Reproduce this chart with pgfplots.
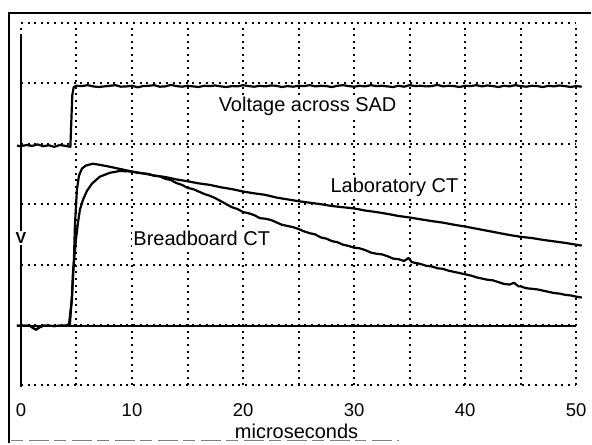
\documentclass[border=0pt]{standalone}
\usepackage{pgfplots}
\pgfplotsset{compat=1.18}
\usepackage{fontspec}
\setmainfont{Liberation Sans}

\pgfplotstableread{
x y
-0.36 3.97
0.0 3.96
0.5 3.98
1.0 3.965
1.5 3.99
2.0 3.96
2.5 3.975
3.0 3.95
3.5 3.98
4.0 3.965
4.45 3.95
4.52 4.30
4.62 4.80
4.75 4.94
5.0 4.96
5.5 4.955
6.0 4.97
6.5 4.95
7.0 4.94
7.5 4.95
8.0 4.96
8.5 4.97
9.0 4.945
9.5 4.95
10.0 4.96
10.5 4.935
11.0 4.955
11.5 4.96
12.0 4.97
12.5 4.945
13.0 4.95
13.5 4.975
14.0 4.955
14.5 4.945
15.0 4.96
15.5 4.95
16.0 4.94
16.5 4.96
17.0 4.955
17.5 4.965
18.0 4.95
18.5 4.94
19.0 4.955
19.5 4.95
20.0 4.97
20.5 4.955
21.0 4.945
21.5 4.96
22.0 4.95
22.5 4.965
23.0 4.96
23.5 4.94
24.0 4.955
24.5 4.945
25.0 4.96
25.5 4.955
26.0 4.97
26.5 4.95
27.0 4.96
27.5 4.955
28.0 4.94
28.5 4.96
29.0 4.97
29.5 4.955
30.0 4.945
30.5 4.96
31.0 4.95
31.5 4.97
32.0 4.955
32.5 4.96
33.0 4.95
33.5 4.94
34.0 4.96
34.5 4.945
35.0 4.97
35.5 4.955
36.0 4.96
36.5 4.95
37.0 4.955
37.5 4.975
38.0 4.95
38.5 4.96
39.0 4.955
39.5 4.94
40.0 4.96
40.5 4.955
41.0 4.97
41.5 4.95
42.0 4.965
42.5 4.955
43.0 4.94
43.5 4.96
44.0 4.95
44.5 4.97
45.0 4.955
45.5 4.945
46.0 4.96
46.5 4.955
47.0 4.94
47.5 4.96
48.0 4.95
48.5 4.965
49.0 4.955
49.5 4.94
50.0 4.955
50.5 4.945
}\voltage

\pgfplotstableread{
x y
-0.36 0.99
0.8 0.99
1.1 0.95
1.35 0.925
1.65 0.96
2.0 0.99
3.0 0.985
4.0 0.99
4.32 1.01
4.59 1.42
4.77 2.08
4.86 2.66
5.04 3.24
5.22 3.47
5.49 3.59
5.85 3.64
6.47 3.67
7 3.655
8 3.62
9 3.58
10 3.54
11 3.51
12 3.475
13 3.45
14 3.41
15 3.38
16 3.345
17 3.32
18 3.28
19 3.25
20 3.21
21 3.18
22 3.155
23 3.11
24 3.08
25 3.05
26 3.025
27 3.00
28 2.97
29 2.95
30 2.93
31 2.895
32 2.87
33 2.84
34 2.805
35 2.78
36 2.75
37 2.72
38 2.695
39 2.66
40 2.63
41 2.595
42 2.56
43 2.525
44 2.49
45 2.46
46 2.44
47 2.41
48 2.385
49 2.36
50 2.33
50.5 2.315
}\lab

\pgfplotstableread{
x y
-0.36 0.99
0.8 0.99
1.1 0.95
1.35 0.925
1.65 0.96
2.0 0.99
3.0 0.985
4.0 0.99
4.41 1.01
4.59 1.50
4.68 1.87
4.95 2.41
5.13 2.69
5.31 2.91
5.58 3.07
5.94 3.22
6.39 3.34
7.10 3.455
8.00 3.52
8.90 3.55
10 3.54
10.5 3.52
11 3.51
11.5 3.50
12 3.47
12.5 3.46
13 3.42
13.5 3.40
14 3.35
14.5 3.32
15 3.27
15.5 3.25
16 3.21
16.5 3.17
17 3.14
17.5 3.10
18 3.05
18.5 3.00
19 2.95
19.5 2.92
20 2.87
20.5 2.85
21 2.82
21.5 2.77
22 2.76
22.5 2.74
23 2.70
23.5 2.66
24 2.64
24.5 2.62
25 2.59
25.5 2.55
26 2.52
26.5 2.50
27 2.45
27.5 2.43
28 2.39
28.5 2.37
29 2.33
29.5 2.31
30 2.28
30.5 2.27
31 2.24
31.5 2.20
32 2.18
32.5 2.17
33 2.14
33.5 2.10
34 2.09
34.5 2.06
34.9 2.11
35.2 2.04
35.5 2.03
36 2.01
36.5 1.98
37 1.97
37.5 1.94
38 1.93
38.5 1.90
39 1.88
39.5 1.86
40 1.84
40.5 1.82
41 1.79
41.5 1.77
42 1.75
42.5 1.74
43 1.71
43.5 1.68
44 1.67
44.4 1.70
44.8 1.64
45 1.64
45.5 1.61
46 1.60
46.5 1.59
47 1.57
47.5 1.55
48 1.53
48.5 1.52
49 1.50
49.5 1.49
50 1.47
50.5 1.455
}\bread

\tikzset{trace/.style={black, no markers, line width=2.2pt, line join=round}}

\begin{document}
\begin{tikzpicture}
\begin{axis}[
  scale only axis, width=556pt, height=363pt,
  xmin=0, xmax=50, ymin=0, ymax=6,
  clip=false,
  axis line style={draw=none},
  xtick={0,5,...,50}, xticklabels={0,,10,,20,,30,,40,,50},
  ytick={0,1,...,6}, yticklabels={},
  major tick length=0pt,
  grid=major,
  major grid style={black, line width=2pt, dash pattern=on 2pt off 4.6pt},
  xticklabel style={font=\fontsize{18.5}{22}\selectfont, anchor=base, yshift=-31pt},
  /pgf/number format/assume math mode=true,
]
% bounding region
\path (axis cs:-1.888,-0.959) rectangle (axis cs:51.349,6.380);
% frame
\draw[line width=1.6pt] (axis cs:-1.079,-0.959) -- (axis cs:-1.079,6.165) -- (axis cs:51.349,6.165);
\draw[gray, line width=1.5pt, dash pattern=on 12pt off 6pt on 20pt off 5pt] (axis cs:-0.9,-0.909) -- (axis cs:34,-0.909);
% left solid line
\draw[line width=2.2pt] (axis cs:0,-0.03) -- (axis cs:0,5.80);
\node[fill=white, inner sep=1.5pt, font=\fontsize{16}{19}\selectfont\bfseries] at (axis cs:0,2.446) {V};
% baseline
\addplot[black, no markers, line width=1.3pt] coordinates {(-0.36,0.985) (50,0.985)};
\addplot[trace] table {\voltage};
\addplot[trace] table {\lab};
\addplot[trace] table {\bread};
\node[fill=white, inner sep=1pt, font=\fontsize{20}{24}\selectfont] at (axis cs:25.81,4.612) {Voltage across SAD};
\node[fill=white, inner sep=1pt, font=\fontsize{20}{24}\selectfont] at (axis cs:33.63,3.273) {Laboratory CT};
\node[fill=white, inner sep=1pt, font=\fontsize{20}{24}\selectfont] at (axis cs:16.28,2.430) {Breadboard CT};
\node[font=\fontsize{20}{24}\selectfont] at (axis cs:24.82,-0.76) {microseconds};
\end{axis}
\end{tikzpicture}
\end{document}
